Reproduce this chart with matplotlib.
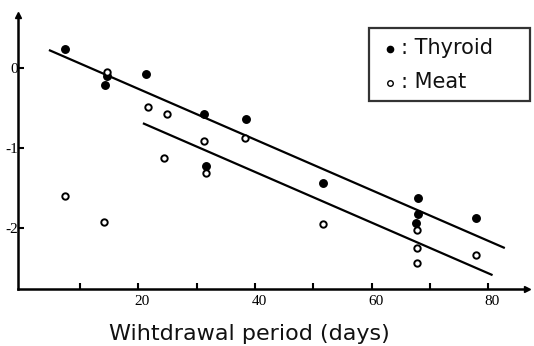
import matplotlib
matplotlib.use("Agg")
import matplotlib.pyplot as plt
from matplotlib.lines import Line2D
from matplotlib.patches import Rectangle
from matplotlib.transforms import ScaledTranslation

# Residue levels (log scale) against withdrawal time
thyroid_days = [7.4, 14.3, 14.6, 21.3, 31.2, 31.6, 38.4, 51.6, 67.9, 67.9, 67.5, 77.8]
thyroid_vals = [0.24, -0.21, -0.10, -0.07, -0.58, -1.22, -0.64, -1.44, -1.62, -1.83, -1.94, -1.87]

meat_days = [7.4, 14.1, 14.6, 21.7, 24.4, 24.9, 31.2, 31.6, 38.3, 51.6, 67.7, 67.7, 67.7, 77.8]
meat_vals = [-1.60, -1.93, -0.05, -0.49, -1.12, -0.58, -0.91, -1.31, -0.87, -1.95, -2.03, -2.25, -2.44, -2.34]

# Regression lines: slope, intercept, x-range
thyroid_fit = (-0.0317, 0.374, (4.7, 82.8))
meat_fit = (-0.0317, -0.031, (20.8, 80.7))

x_major = [20, 40, 60, 80]
x_minor = [10, 30, 50, 70]
y_major = [0, -1, -2]
y_ticklabels = ["0", "-1", "-2"]

fig = plt.figure(figsize=(5.34, 3.46), dpi=100)
W, H = 534, 346
ax = fig.add_axes([18 / W, 1 - 289 / H, (527 - 18) / W, (289 - 15) / H])
ax.set_xlim(-0.6, 86.6)
ax.set_ylim(-2.7625, 0.6625)

for name in ("top", "right"):
    ax.spines[name].set_visible(False)
for name in ("left", "bottom"):
    ax.spines[name].set_linewidth(1.8)

# Fitted lines
for slope, icpt, (x0, x1) in (thyroid_fit, meat_fit):
    ax.plot([x0, x1], [icpt + slope * x0, icpt + slope * x1], color="black", lw=1.6,
            solid_capstyle="butt")

ax.plot(thyroid_days, thyroid_vals, "o", ms=5.4, color="black", mec="black", zorder=3)
ax.plot(meat_days, meat_vals, "o", ms=4.6, mfc="white", mec="black", mew=1.4, zorder=3)

ax.set_xticks(x_major)
ax.set_xticks(x_minor, minor=True)
ax.set_yticks(y_major)
ax.set_yticklabels(y_ticklabels)
ax.tick_params(axis="both", which="both", direction="in", length=4.5, width=1.5)
ax.tick_params(axis="x", which="minor", labelbottom=False)
ax.tick_params(axis="x", pad=4)
ax.tick_params(axis="y", pad=0)
for lbl in ax.get_xticklabels() + ax.get_yticklabels():
    lbl.set_fontfamily("Liberation Serif")
    lbl.set_fontsize(11)
for lbl in ax.get_xticklabels():
    lbl.set_transform(lbl.get_transform() + ScaledTranslation(4 / 100, 0, fig.dpi_scale_trans))

# Axis arrowheads
ax.plot([1.0], [0.0], marker=">", ms=5, color="black", transform=ax.transAxes, clip_on=False)
ax.plot([0.0], [1.0], marker="^", ms=4, color="black", transform=ax.transAxes, clip_on=False)

ax.set_xlabel("Wihtdrawal period (days)", fontsize=16, fontfamily="DejaVu Sans",
              color="#111111")
ax.xaxis.set_label_coords((249 - 18) / 509, (289 - 340) / 274)
ax.xaxis.label.set_va("baseline")

# Legend box
box = Rectangle((369 / W, 1 - 101 / H), (530 - 369) / W, (101 - 28) / H,
                transform=fig.transFigure, fill=False, ec="#333333", lw=1.6)
fig.add_artist(box)
fig.add_artist(Line2D([390 / W], [1 - 49 / H], marker="o", ms=4.5, color="black",
                      transform=fig.transFigure))
fig.add_artist(Line2D([390 / W], [1 - 83 / H], marker="o", ms=4, mfc="white", mec="black",
                      mew=1.0, transform=fig.transFigure))
fig.text(401 / W, 1 - 48 / H, ": Thyroid", fontsize=15, va="center", ha="left",
         fontfamily="DejaVu Sans", color="#111111")
fig.text(401 / W, 1 - 82 / H, ": Meat", fontsize=15, va="center", ha="left",
         fontfamily="DejaVu Sans", color="#111111")

fig.savefig("out.png", dpi=100)
